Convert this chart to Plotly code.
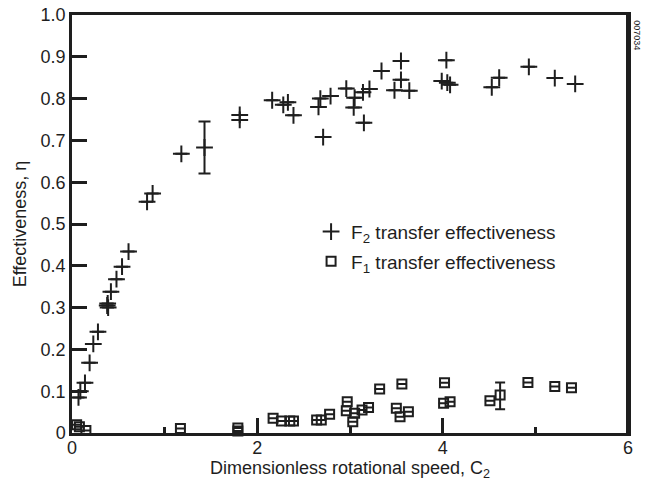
import plotly.graph_objects as go

# F2 transfer effectiveness (+)
f2_x = [0.07, 0.09, 0.14, 0.19, 0.23, 0.28, 0.38, 0.385, 0.39, 0.42, 0.48, 0.54, 0.61,
        0.81, 0.87, 1.18, 1.43, 1.81, 1.81, 2.16, 2.28, 2.33, 2.39, 2.66, 2.68, 2.71,
        2.79, 2.96, 3.05, 3.04, 3.14, 3.21, 3.15, 3.34, 3.48, 3.55, 3.55, 3.64, 3.99,
        4.04, 4.05, 4.08, 4.53, 4.61, 4.93, 5.21, 5.43]
f2_y = [0.085, 0.100, 0.120, 0.168, 0.213, 0.242, 0.305, 0.310, 0.300, 0.338, 0.368, 0.398, 0.434,
        0.553, 0.573, 0.668, 0.683, 0.761, 0.749, 0.796, 0.785, 0.791, 0.760, 0.780, 0.800, 0.708,
        0.806, 0.824, 0.802, 0.779, 0.815, 0.823, 0.742, 0.866, 0.820, 0.890, 0.845, 0.819, 0.842,
        0.892, 0.838, 0.833, 0.827, 0.850, 0.876, 0.849, 0.835]
f2_err = [0.062 if i == 16 else None for i in range(len(f2_x))]

# F1 transfer effectiveness (squares)
f1_x = [0.05, 0.08, 0.15, 1.17, 1.79, 1.79, 2.17, 2.26, 2.35, 2.39, 2.64, 2.69, 2.78,
        2.97, 2.96, 3.05, 3.03, 3.13, 3.20, 3.32, 3.50, 3.63, 3.54, 3.56, 4.02, 4.01,
        4.08, 4.51, 4.62, 4.92, 5.21, 5.39]
f1_y = [0.020, 0.015, 0.006, 0.011, 0.012, 0.005, 0.035, 0.029, 0.029, 0.029, 0.031, 0.031, 0.045,
        0.075, 0.053, 0.047, 0.027, 0.055, 0.061, 0.105, 0.059, 0.051, 0.039, 0.117, 0.120, 0.071,
        0.075, 0.077, 0.091, 0.121, 0.111, 0.108]
f1_err_plus = [0.030 if i == 28 else None for i in range(len(f1_x))]
f1_err_minus = [0.034 if i == 28 else None for i in range(len(f1_x))]

y_ticks = [0, 0.1, 0.2, 0.3, 0.4, 0.5, 0.6, 0.7, 0.8, 0.9, 1.0]
y_labels = ["0", "0.1", "0.2", "0.3", "0.4", "0.5", "0.6", "0.7", "0.8", "0.9", "1.0"]
x_ticks = [0, 2, 4, 6]
x_labels = ["0", "2", "4", "6"]

ink = "#1e1e1e"
font = "Liberation Sans, Arial, sans-serif"

fig = go.Figure()
fig.add_trace(go.Scatter(
    x=f2_x, y=f2_y, mode="markers",
    name="F<sub>2</sub> transfer effectiveness",
    legendgroup="a",
    marker=dict(symbol="cross-thin-open", size=12, color=ink, line=dict(color=ink, width=2)),
    error_y=dict(type="data", array=f2_err, color=ink, thickness=2, width=6),
    cliponaxis=False,
))
fig.add_trace(go.Scatter(
    x=f1_x, y=f1_y, mode="markers",
    name="F<sub>1</sub> transfer effectiveness",
    legendgroup="b",
    marker=dict(symbol="square-open", size=9, color=ink, line=dict(color=ink, width=2)),
    error_y=dict(type="data", symmetric=False, array=f1_err_plus, arrayminus=f1_err_minus,
                 color=ink, thickness=2, width=5),
    cliponaxis=False,
))

fig.add_shape(type="line", xref="paper", yref="paper", x0=1, x1=1, y0=0, y1=1,
              line=dict(color=ink, width=4))

fig.add_annotation(text="007034", xref="paper", yref="paper", x=1.016, y=0.952,
                   xanchor="center", yanchor="middle",
                   showarrow=False, textangle=90, font=dict(size=9, color=ink, family=font))

fig.update_layout(
    width=645, height=483,
    margin=dict(l=72, r=17, t=15, b=50),
    paper_bgcolor="white", plot_bgcolor="white",
    font=dict(family=font, size=18, color=ink),
    showlegend=True,
    legend=dict(x=0.43, y=0.527, xanchor="left", yanchor="top",
                bgcolor="rgba(0,0,0,0)", font=dict(size=19, color=ink),
                tracegroupgap=2, traceorder="grouped", itemwidth=30),
    xaxis=dict(range=[0, 6], showgrid=False, zeroline=False, automargin=False,
               showline=True, linecolor=ink, linewidth=2.5, mirror=True,
               ticks="inside", ticklen=15, tickwidth=2.5, tickcolor=ink,
               tickvals=x_ticks, ticktext=x_labels, ticklabelstandoff=-3,
               minor=dict(ticks="inside", ticklen=6, tickwidth=2.5, tickcolor=ink, dtick=1, showgrid=False),
               title=dict(text="Dimensionless rotational speed, C<sub>2</sub>", standoff=2,
                          font=dict(size=18))),
    yaxis=dict(range=[0, 1], showgrid=False, zeroline=False, automargin=False,
               showline=True, linecolor=ink, linewidth=2.5, mirror=True,
               ticks="inside", ticklen=15, tickwidth=2.5, tickcolor=ink,
               tickvals=y_ticks, ticktext=y_labels,
               title=dict(text="Effectiveness, η", standoff=10, font=dict(size=18))),
)

fig.write_html("out.html", config={"displayModeBar": False})
